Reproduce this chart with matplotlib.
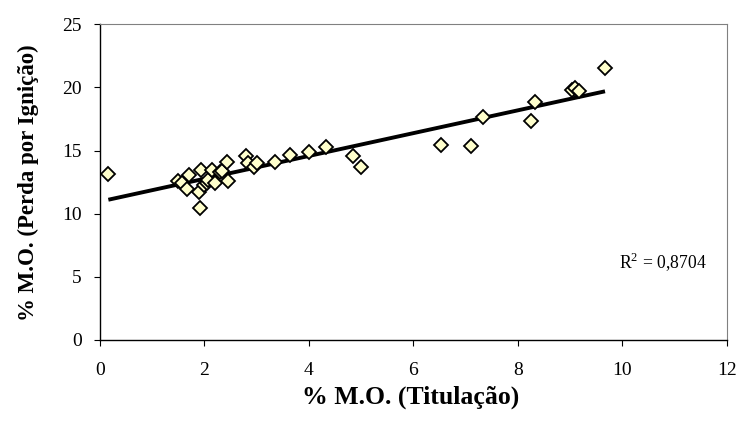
import matplotlib
matplotlib.use("Agg")
import matplotlib.pyplot as plt
import numpy as np

# Data
mo_titulacao = [0.16, 1.50, 1.57, 1.71, 1.67, 1.90, 1.92, 1.94, 1.99, 2.04, 2.07, 2.14,
                2.20, 2.30, 2.33, 2.43, 2.46, 2.79, 2.84, 2.94, 3.01, 3.35, 3.63, 4.01,
                4.32, 4.85, 5.00, 6.53, 7.11, 7.34, 8.25, 8.33, 9.04, 9.10, 9.18, 9.67]
mo_ignicao = [13.11, 12.60, 12.45, 13.05, 11.95, 11.73, 10.42, 13.45, 12.26, 12.40, 12.66, 13.45,
              12.40, 13.30, 13.39, 14.06, 12.60, 14.58, 14.00, 13.71, 13.98, 14.06, 14.64, 14.90,
              15.25, 14.56, 13.71, 15.48, 15.35, 17.64, 17.35, 18.85, 19.83, 19.95, 19.72, 21.50]
x_ticks = [0, 2, 4, 6, 8, 10, 12]
y_ticks = [0, 5, 10, 15, 20, 25]
r2_text = "R$^2$ = 0,8704"

plt.rcParams['font.family'] = ['Liberation Serif', 'DejaVu Serif']
plt.rcParams['mathtext.fontset'] = 'custom'
plt.rcParams['mathtext.rm'] = 'Liberation Serif'

fig = plt.figure(figsize=(7.4, 4.37), dpi=100)
ax = fig.add_axes([100/740, 1-340/437, (726.7-100)/740, (340-24.3)/437])

x = np.array(mo_titulacao)
y = np.array(mo_ignicao)
slope, intercept = np.polyfit(x, y, 1)
xl = np.array([x.min(), x.max()])
ax.plot(xl, slope*xl + intercept, color='black', lw=2.8, solid_capstyle='butt', zorder=2)
ax.plot(x, y, linestyle='none', marker='D', markersize=6.8, markerfacecolor='#FFFFCC',
        markeredgecolor='black', markeredgewidth=1.3, zorder=3)

ax.set_xlim(0, 12)
ax.set_ylim(0, 25)
ax.set_xticks(x_ticks)
ax.set_yticks(y_ticks)
ax.tick_params(labelsize=14, length=4.5, width=0.8, direction='out', colors='black')
ax.tick_params(axis='x', pad=11.5)
ax.tick_params(axis='y', pad=8.5)
for s in ['top', 'right']:
    ax.spines[s].set_color('#808080')
    ax.spines[s].set_linewidth(0.8)
for s in ['left', 'bottom']:
    ax.spines[s].set_color('black')
    ax.spines[s].set_linewidth(1.0)

ax.set_xlabel('% M.O. (Titulação)', fontsize=18.5, fontweight='bold')
ax.set_ylabel('% M.O. (Perda por Ignição)', fontsize=16.5, fontweight='bold')
ax.xaxis.label.set_va('center')
ax.xaxis.label.set_ha('center')
ax.yaxis.label.set_va('center')
ax.yaxis.label.set_ha('center')
ax.xaxis.set_label_coords(0.495, -0.1805)
ax.yaxis.set_label_coords(-0.115, 0.497)
ax.text(10.77, 6.2, r2_text, fontsize=12.7, ha='center', va='center')

fig.savefig('out.png', dpi=100)
